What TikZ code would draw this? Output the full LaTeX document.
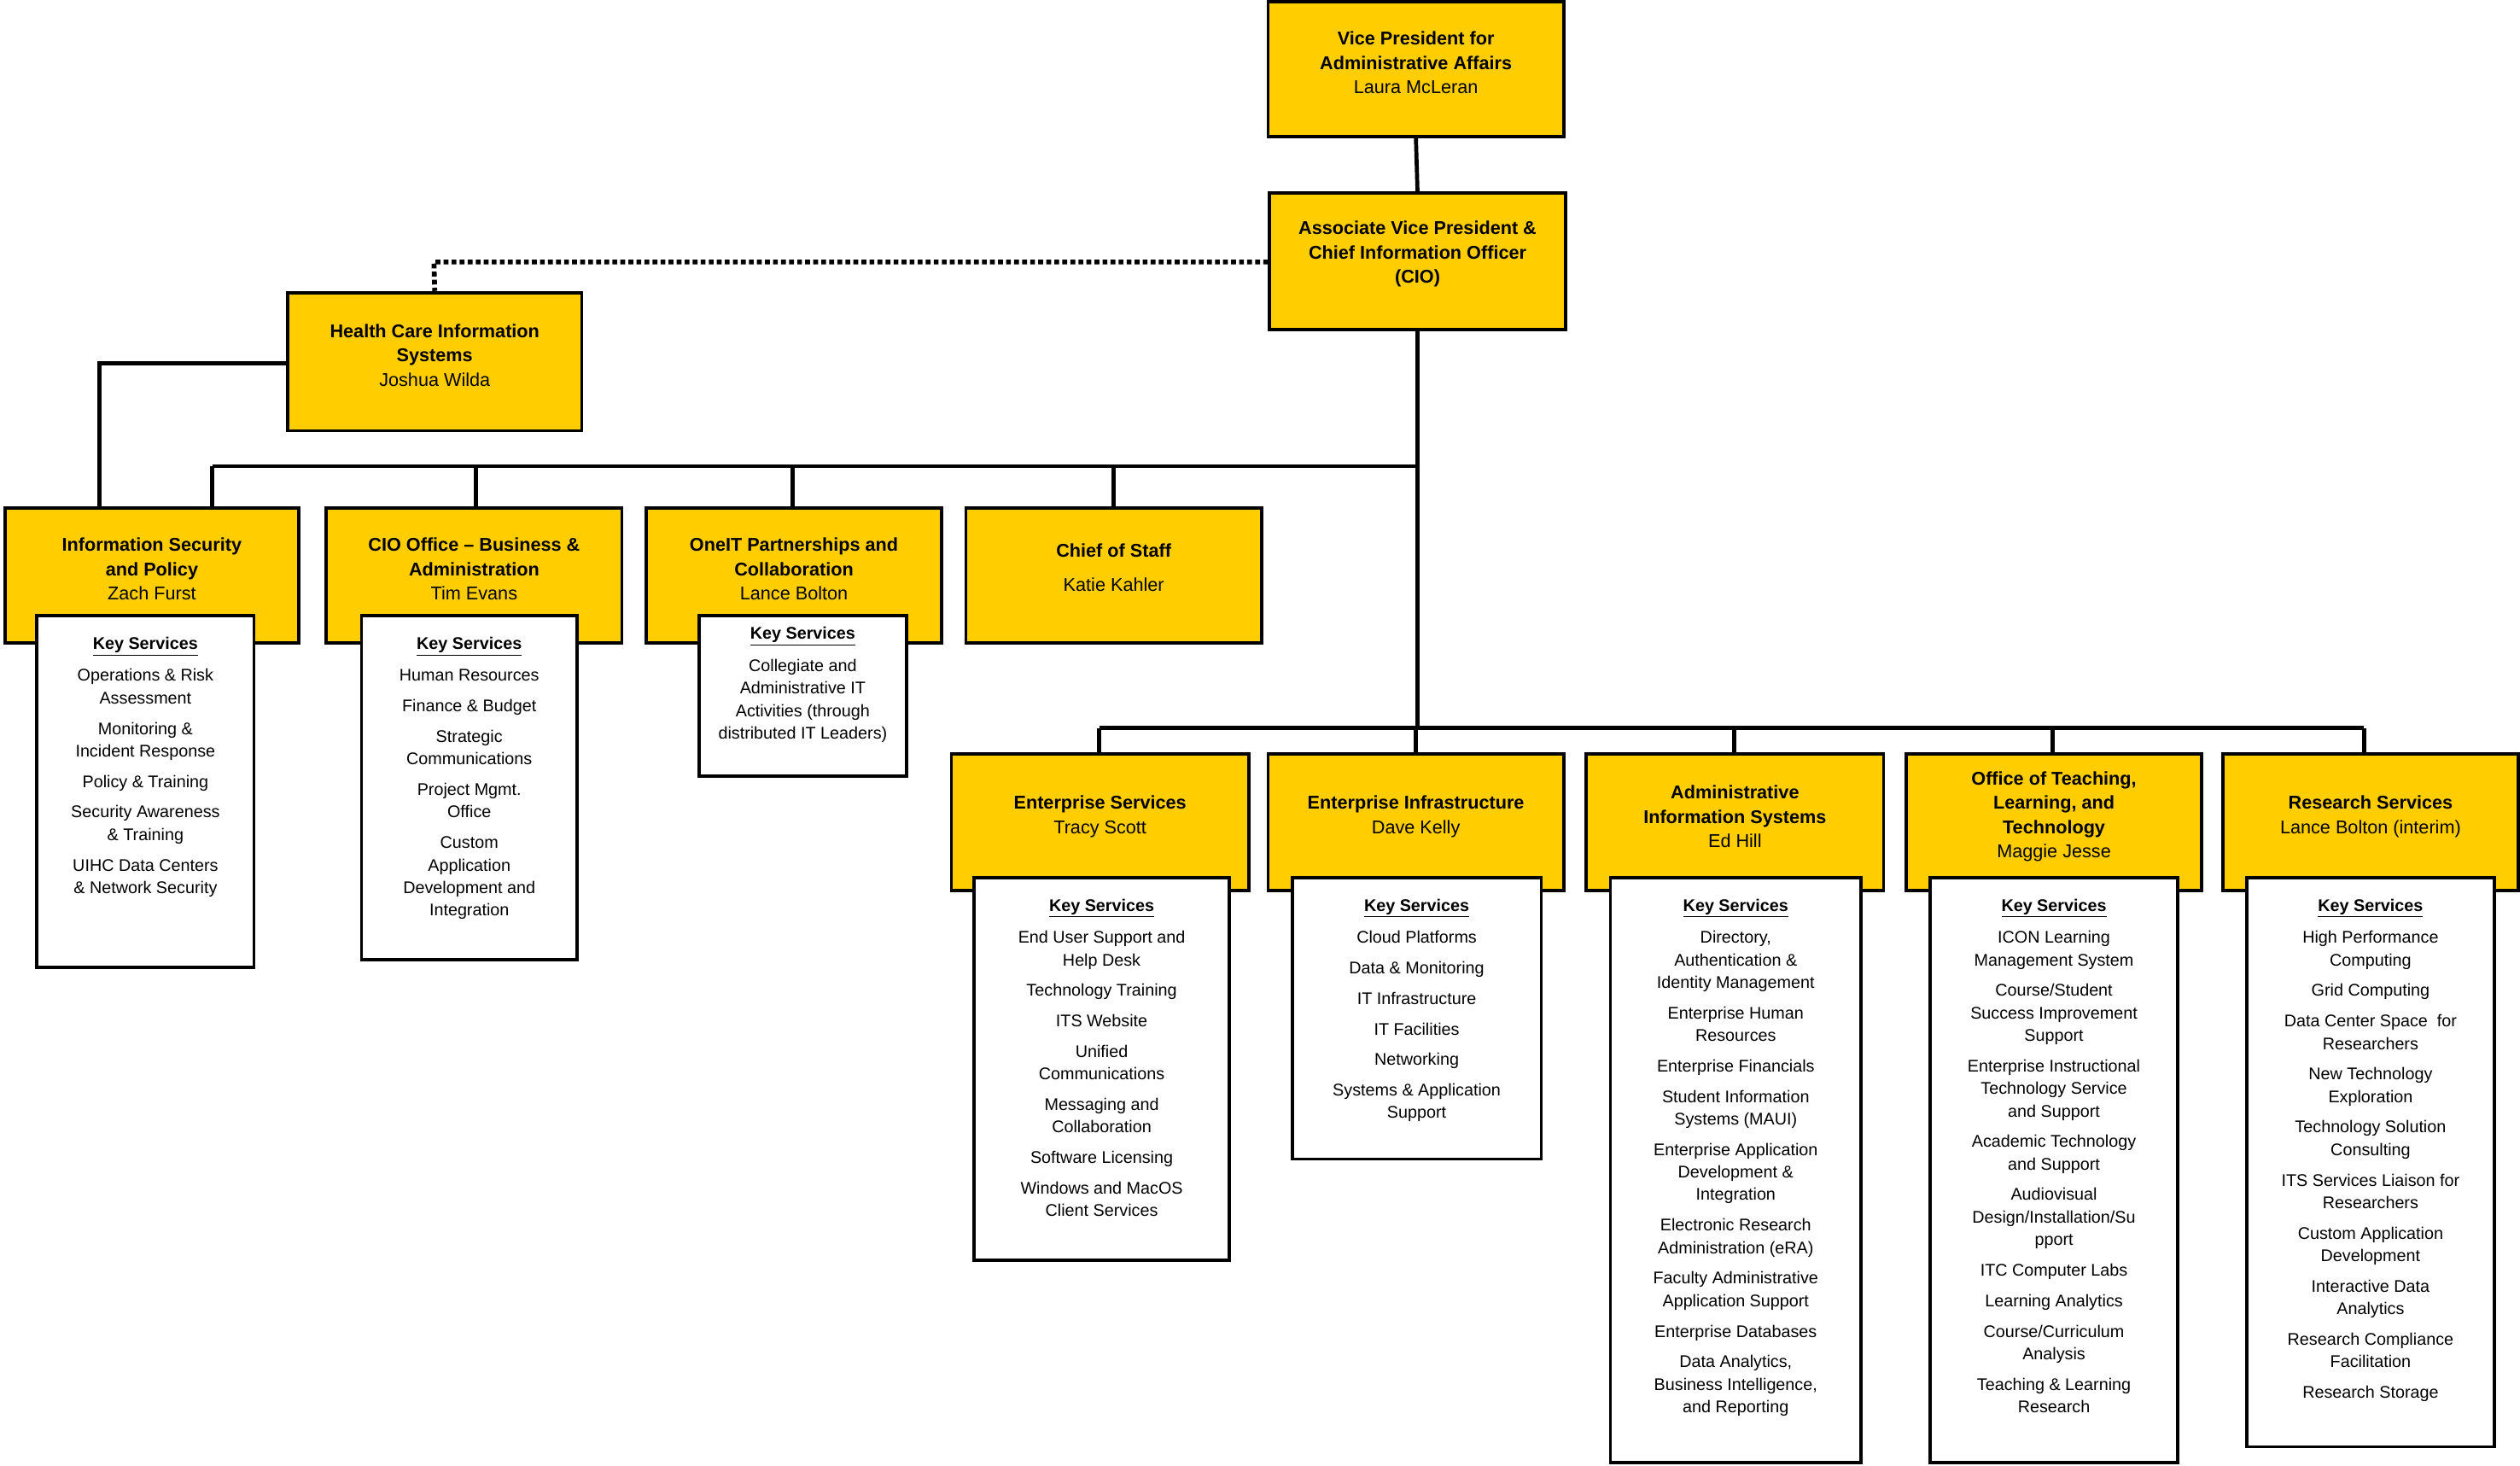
\documentclass[tikz,border=0pt]{standalone}
\usepackage{fontspec}
\setmainfont{Liberation Sans}
\definecolor{gold}{HTML}{FFCD00}
\newcommand\sv{\\[5pt]}
\begin{document}
\begin{tikzpicture}[x=1pt,y=-1pt,
  ybox/.style={draw=black,line width=2pt,fill=gold,inner sep=0pt},
  wbox/.style={draw=black,line width=2pt,fill=white,inner sep=0pt,anchor=north},
  ttl/.style={align=center,font=\fontsize{11.5}{15}\selectfont,inner sep=0pt},
  svtxt/.style={align=center,font=\fontsize{10.5}{14}\selectfont,inner sep=0pt,anchor=north},
  conn/.style={line width=2.5pt}]
\useasboundingbox (0,0) rectangle (1568,912);
\fill[white] (0,0) rectangle (1568,912);
% connectors
\coordinate (bus1L) at (132,290);
\coordinate (bus1R) at (882,290);
\coordinate (bus2L) at (684,453);
\coordinate (bus2R) at (1471,453);
\coordinate (hcisL) at (62,226);
\coordinate (dotc) at (270,163);
% nodes
\node[ybox,minimum width=184,minimum height=84] (vp) at (881,43) {};
\node[ttl] (vpt) at (881,39) {\textbf{Vice President for}\\\textbf{Administrative Affairs}\\Laura McLeran};
\node[ybox,minimum width=184,minimum height=85] (avp) at (882,162.5) {};
\node[ttl] (avpt) at (882,158) {\textbf{Associate Vice President \&}\\\textbf{Chief Information Officer}\\\textbf{(CIO)}};
\node[ybox,minimum width=183,minimum height=86] (hcis) at (270.5,225) {};
\node[ttl] (hcist) at (270.5,221) {\textbf{Health Care Information}\\\textbf{Systems}\\Joshua Wilda};
\draw[conn] (vp.south) -- (avp.north);
\draw[line width=3pt,dotted] (avp.west |- dotc) -- (dotc) -- (hcis.north);
\draw[conn] (hcis.west |- hcisL) -- (hcisL) -- (hcisL |- 0,316);
\draw[conn] (avp.south) -- (avp.south |- bus2L);
\draw[conn] (bus1L) -- (bus1R);
\draw[conn] (bus2L) -- (bus2R);
\foreach \x in {132,296,493,693} \draw[conn] (\x,290) -- (\x,316);
\foreach \x in {684,881,1079,1277,1471} \draw[conn] (\x,453) -- (\x,469);
% row 1
\node[ybox,minimum width=183,minimum height=84] (is) at (94.5,358) {};
\node[ttl] (ist) at (94.5,354) {\textbf{Information Security}\\\textbf{and Policy}\\Zach Furst};
\node[ybox,minimum width=184,minimum height=84] (cio) at (295,358) {};
\node[ttl] (ciot) at (295,354) {\textbf{CIO Office – Business \&}\\\textbf{Administration}\\Tim Evans};
\node[ybox,minimum width=184,minimum height=84] (one) at (494,358) {};
\node[ttl] (onet) at (494,354) {\textbf{OneIT Partnerships and}\\\textbf{Collaboration}\\Lance Bolton};
\node[ybox,minimum width=184,minimum height=84] (cos) at (693,358) {};
\node[ttl] (cost) at (693,353) {\textbf{Chief of Staff}\\[6pt]Katie Kahler};
\node[wbox,minimum width=135,minimum height=219] (isw) at (90.5,382) {};
\node[svtxt] (iss) at (90.5,396) {\textbf{\underline{Key Services}}\\[6pt]Operations \& Risk\\Assessment\sv Monitoring \&\\Incident Response\sv Policy \& Training\sv Security Awareness\\\& Training\sv UIHC Data Centers\\\& Network Security};
\node[wbox,minimum width=134,minimum height=214] (ciow) at (292,382) {};
\node[svtxt] (cios) at (292,396) {\textbf{\underline{Key Services}}\\[6pt]Human Resources\sv Finance \& Budget\sv Strategic\\Communications\sv Project Mgmt.\\Office\sv Custom\\Application\\Development and\\Integration};
\node[wbox,minimum width=129,minimum height=100] (onew) at (499.5,382) {};
\node[svtxt] (ones) at (499.5,390) {\textbf{\underline{Key Services}}\\[6pt]Collegiate and\\Administrative IT\\Activities (through\\distributed IT Leaders)};
% row 2
\node[ybox,minimum width=185,minimum height=85] (es) at (684.5,511.5) {};
\node[ttl] (est) at (684.5,508) {\textbf{Enterprise Services}\\Tracy Scott};
\node[ybox,minimum width=184,minimum height=85] (ei) at (881,511.5) {};
\node[ttl] (eit) at (881,508) {\textbf{Enterprise Infrastructure}\\Dave Kelly};
\node[ybox,minimum width=185,minimum height=85] (ais) at (1079.5,511.5) {};
\node[ttl] (aist) at (1079.5,508) {\textbf{Administrative}\\\textbf{Information Systems}\\Ed Hill};
\node[ybox,minimum width=184,minimum height=85] (otl) at (1278,511.5) {};
\node[ttl] (otlt) at (1278,508) {\textbf{Office of Teaching,}\\\textbf{Learning, and}\\\textbf{Technology}\\Maggie Jesse};
\node[ybox,minimum width=184,minimum height=85] (rs) at (1475,511.5) {};
\node[ttl] (rst) at (1475,508) {\textbf{Research Services}\\Lance Bolton (interim)};
\node[wbox,minimum width=159,minimum height=238] (esw) at (685.5,545) {};
\node[svtxt] (ess) at (685.5,559) {\textbf{\underline{Key Services}}\\[6pt]End User Support and\\Help Desk\sv Technology Training\sv ITS Website\sv Unified\\Communications\sv Messaging and\\Collaboration\sv Software Licensing\sv Windows and MacOS\\Client Services};
\node[wbox,minimum width=155,minimum height=175] (eiw) at (881.5,545) {};
\node[svtxt] (eis) at (881.5,559) {\textbf{\underline{Key Services}}\\[6pt]Cloud Platforms\sv Data \& Monitoring\sv IT Infrastructure\sv IT Facilities\sv Networking\sv Systems \& Application\\Support};
\node[wbox,minimum width=156,minimum height=364] (aisw) at (1080,545) {};
\node[svtxt] (aiss) at (1080,559) {\textbf{\underline{Key Services}}\\[6pt]Directory,\\Authentication \&\\Identity Management\sv Enterprise Human\\Resources\sv Enterprise Financials\sv Student Information\\Systems (MAUI)\sv Enterprise Application\\Development \&\\Integration\sv Electronic Research\\Administration (eRA)\sv Faculty Administrative\\Application Support\sv Enterprise Databases\sv Data Analytics,\\Business Intelligence,\\and Reporting};
\node[wbox,minimum width=154,minimum height=364] (otlw) at (1278,545) {};
\node[svtxt] (otls) at (1278,559) {\textbf{\underline{Key Services}}\\[6pt]ICON Learning\\Management System\sv Course/Student\\Success Improvement\\Support\sv Enterprise Instructional\\Technology Service\\and Support\sv Academic Technology\\and Support\sv Audiovisual\\Design/Installation/Su\\pport\sv ITC Computer Labs\sv Learning Analytics\sv Course/Curriculum\\Analysis\sv Teaching \& Learning\\Research};
\node[wbox,minimum width=154,minimum height=354] (rsw) at (1475,545) {};
\node[svtxt] (rss) at (1475,559) {\textbf{\underline{Key Services}}\\[6pt]High Performance\\Computing\sv Grid Computing\sv Data Center Space\ \ for\\Researchers\sv New Technology\\Exploration\sv Technology Solution\\Consulting\sv ITS Services Liaison for\\Researchers\sv Custom Application\\Development\sv Interactive Data\\Analytics\sv Research Compliance\\Facilitation\sv Research Storage};
\end{tikzpicture}
\end{document}
